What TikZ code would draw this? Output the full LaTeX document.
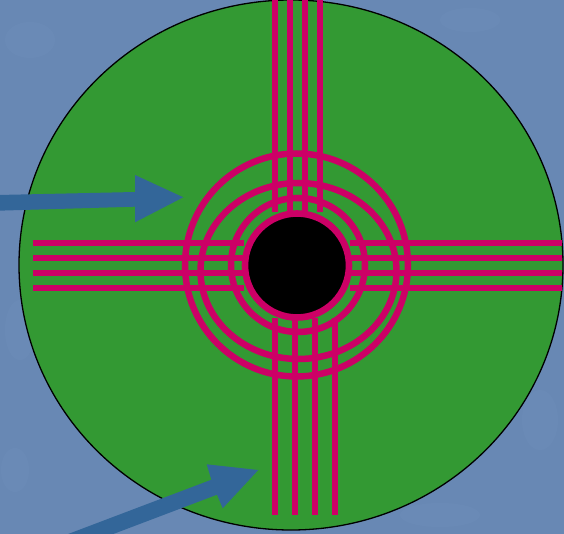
\documentclass[tikz,border=0pt]{standalone}
\usetikzlibrary{calc}
\definecolor{bgblue}{RGB}{104,136,180}
\definecolor{bglight}{RGB}{128,160,200}
\definecolor{disc}{RGB}{51,153,51}
\definecolor{mag}{RGB}{204,0,102}
\definecolor{arrowblue}{RGB}{51,102,153}
\tikzset{
  magline/.style={draw=mag,line width=6pt},
  magring/.style={draw=mag,line width=6.5pt},
  bigarrow/.style={fill=arrowblue,draw=none},
  blotch/.style={fill=bglight,opacity=0.12,draw=none}
}
\begin{document}
\begin{tikzpicture}[x=1pt,y=-1pt]
\useasboundingbox (0,0) rectangle (564,534);
\clip (0,0) rectangle (564,534);
% background
\fill[bgblue] (0,0) rectangle (564,534);
\fill[blotch] (30,40) ellipse (25 and 18);
\fill[blotch] (90,110) ellipse (20 and 14);
\fill[blotch] (20,330) ellipse (15 and 30);
\fill[blotch] (470,20) ellipse (30 and 12);
\fill[blotch] (540,420) ellipse (18 and 30);
\fill[blotch] (440,515) ellipse (40 and 12);
\fill[blotch] (15,470) ellipse (14 and 22);
% disc
\coordinate (C) at (291,265);
\filldraw[fill=disc,draw=black,line width=1.3pt] (C) ellipse (272 and 265);
% rings
\coordinate (R1) at (296.5,265);
\coordinate (R2) at (298.5,271);
\coordinate (R3) at (298,265);
\draw[magring] (R1) circle (111.5);
\draw[magring] (R2) ellipse (98 and 88);
\draw[magring] (R3) circle (67);
% top vertical lines
\foreach \x in {274.5,289.7,304.5,319.7}{
  \draw[magline] (\x,0) -- (\x,212);
}
% bottom vertical lines
\foreach \x in {274.5,294.7,314.7,334.7}{
  \draw[magline] (\x,318) -- (\x,515);
}
% horizontal lines
\foreach \y in {243,258,273,288}{
  \draw[magline] (33,\y) -- (244,\y);
  \draw[magline] (350,\y) -- (562,\y);
}
% hub
\coordinate (H) at (297,265.5);
\filldraw[fill=black,draw=mag,line width=6.6pt] (H) circle (52);
% arrow 1
\fill[bigarrow] (-2,195) -- (135,192) -- (135,175) -- (183.3,197.3)
  -- (135,222.3) -- (135,206.7) -- (-2,210.7) -- cycle;
% arrow 2
\coordinate (T) at (258.3,470);
\coordinate (B) at (214.2,487.2);
\coordinate (S) at (61.7,545);
\coordinate (n) at (0.3535,0.9354);
\fill[bigarrow] ($(S)-8*(n)$) -- ($(B)-8*(n)$) -- (206.7,464.3) -- (T)
  -- (222.7,508.3) -- ($(B)+8*(n)$) -- ($(S)+8*(n)$) -- cycle;
\end{tikzpicture}
\end{document}
